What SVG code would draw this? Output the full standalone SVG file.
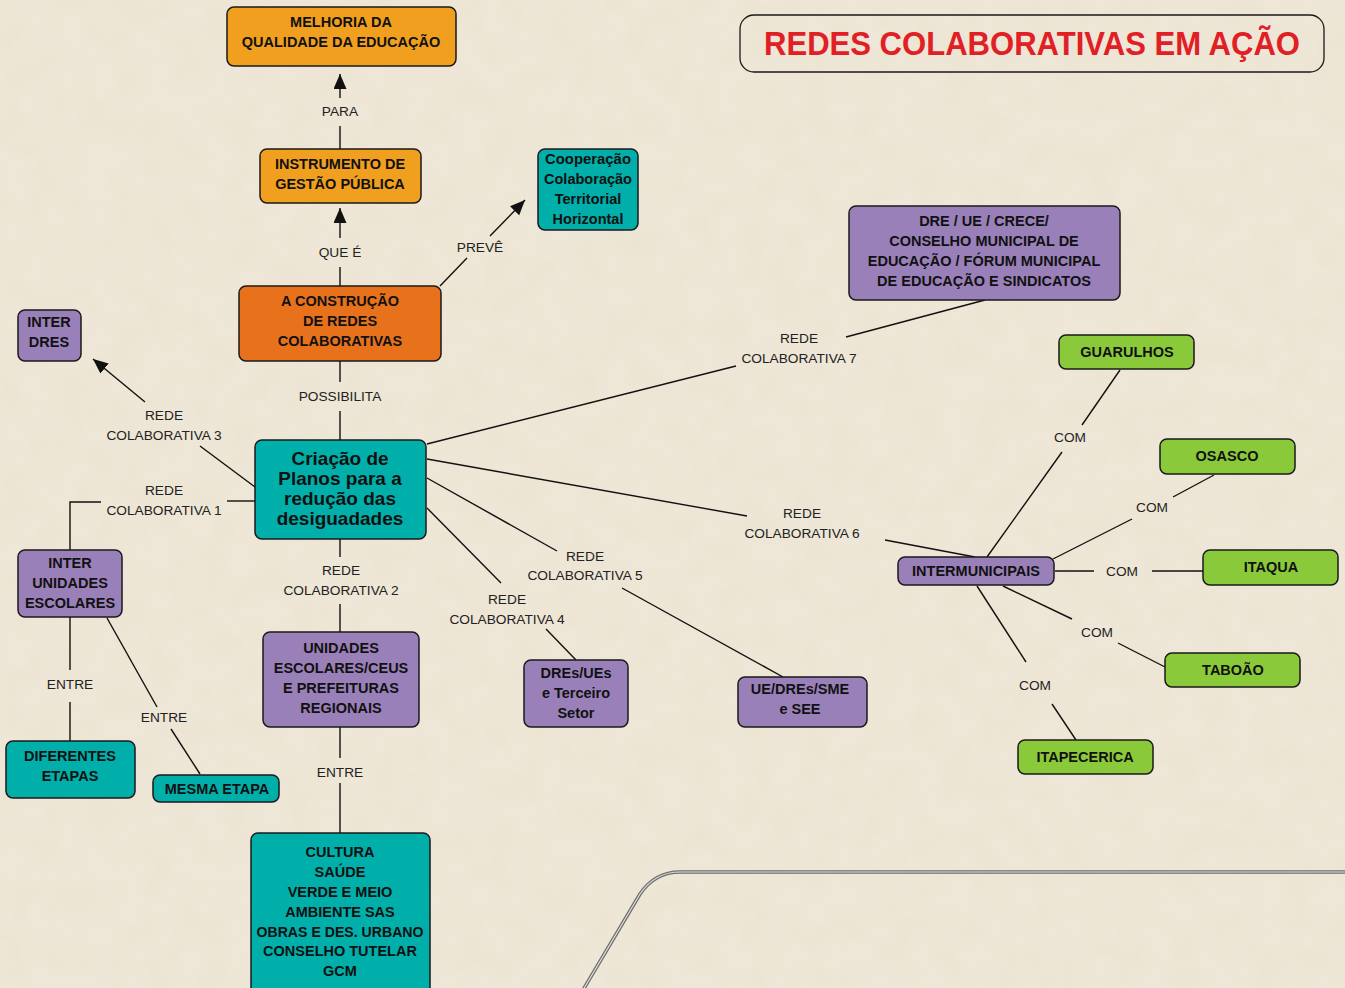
<svg xmlns="http://www.w3.org/2000/svg" width="1345" height="988" viewBox="0 0 1345 988">
<defs>
<style>
.box{stroke:#1a1a1a;stroke-width:1.5}
.ochre{fill:#f0a01e}
.dorange{fill:#e8711c}
.teal{fill:#00afaa}
.purple{fill:#9a80b9}
.green{fill:#8ac93a}
.nt{font-family:"Liberation Sans",Arial,sans-serif;font-weight:bold;font-size:14.5px;fill:#111;text-anchor:middle;dominant-baseline:central}
.big{font-size:19px}
.lbl{font-family:"Liberation Sans",Arial,sans-serif;font-size:13.7px;fill:#222;text-anchor:middle;dominant-baseline:central}
.ln{stroke:#111;stroke-width:1.4;fill:none}
</style>
<marker id="arr" markerUnits="userSpaceOnUse" markerWidth="16" markerHeight="14" refX="15" refY="6.5" orient="auto">
<path d="M0,0 L15,6.5 L0,13 Z" fill="#111"/>
</marker>
<filter id="paper" x="0" y="0" width="100%" height="100%">
<feTurbulence type="fractalNoise" baseFrequency="0.035" numOctaves="4" seed="3" result="n"/>
<feColorMatrix type="matrix" values="0 0 0 0 0.80  0 0 0 0 0.72  0 0 0 0 0.58  0 0 0 1.1 -0.45"/>
</filter>
</defs>
<rect width="1345" height="988" fill="#eee6d6"/>
<rect width="1345" height="988" filter="url(#paper)" opacity="0.35"/>
<g id="decor">
<path d="M583,990 L640,894 Q655,872 680,872 L1345,872" stroke="#6e6e6e" stroke-width="3.6" fill="none"/>
<path d="M583,990 L640,894 Q655,872 680,872 L1345,872" stroke="#e4e4e4" stroke-width="1.1" fill="none"/>
</g>
<g id="title">
<rect x="740" y="15" width="584" height="57" rx="14" fill="none" stroke="#1a1a1a" stroke-width="1.3"/>
<text x="1032" y="43" font-family="'Liberation Sans',Arial,sans-serif" font-weight="bold" font-size="33" fill="#e02025" text-anchor="middle" dominant-baseline="central" textLength="536" lengthAdjust="spacingAndGlyphs">REDES COLABORATIVAS EM AÇÃO</text>
</g>
<g id="connectors">
<line class="ln" x1="340" y1="149" x2="340" y2="126"/>
<line class="ln" x1="340" y1="98" x2="340" y2="74" marker-end="url(#arr)"/>
<text class="lbl" x="340" y="111">PARA</text>
<line class="ln" x1="340" y1="286" x2="340" y2="267"/>
<line class="ln" x1="340" y1="238" x2="340" y2="208" marker-end="url(#arr)"/>
<text class="lbl" x="340" y="252">QUE É</text>
<line class="ln" x1="440" y1="286" x2="467" y2="258"/>
<line class="ln" x1="490" y1="236" x2="525" y2="200" marker-end="url(#arr)"/>
<text class="lbl" x="480" y="247">PREVÊ</text>
<line class="ln" x1="340" y1="361" x2="340" y2="382"/>
<line class="ln" x1="340" y1="411" x2="340" y2="440"/>
<text class="lbl" x="340" y="396">POSSIBILITA</text>
<line class="ln" x1="255" y1="487" x2="200" y2="446"/>
<line class="ln" x1="145" y1="402" x2="93" y2="359" marker-end="url(#arr)"/>
<text class="lbl" x="164" y="415">REDE</text>
<text class="lbl" x="164" y="435">COLABORATIVA 3</text>
<line class="ln" x1="255" y1="501" x2="227" y2="501"/>
<polyline class="ln" points="101,502 70,502 70,550"/>
<text class="lbl" x="164" y="490">REDE</text>
<text class="lbl" x="164" y="510">COLABORATIVA 1</text>
<line class="ln" x1="70" y1="617" x2="70" y2="670"/>
<line class="ln" x1="70" y1="702" x2="70" y2="741"/>
<text class="lbl" x="70" y="684">ENTRE</text>
<line class="ln" x1="107" y1="618" x2="157" y2="707"/>
<line class="ln" x1="171" y1="729" x2="200" y2="774"/>
<text class="lbl" x="164" y="717">ENTRE</text>
<line class="ln" x1="340" y1="539" x2="340" y2="557"/>
<line class="ln" x1="340" y1="604" x2="340" y2="632"/>
<text class="lbl" x="341" y="570">REDE</text>
<text class="lbl" x="341" y="590">COLABORATIVA 2</text>
<line class="ln" x1="340" y1="727" x2="340" y2="758"/>
<line class="ln" x1="340" y1="783" x2="340" y2="833"/>
<text class="lbl" x="340" y="772">ENTRE</text>
<line class="ln" x1="427" y1="508" x2="501" y2="583"/>
<line class="ln" x1="546" y1="629" x2="576" y2="660"/>
<text class="lbl" x="507" y="599">REDE</text>
<text class="lbl" x="507" y="619">COLABORATIVA 4</text>
<line class="ln" x1="427" y1="478" x2="557" y2="551"/>
<line class="ln" x1="622" y1="588" x2="783" y2="677"/>
<text class="lbl" x="585" y="556">REDE</text>
<text class="lbl" x="585" y="575">COLABORATIVA 5</text>
<line class="ln" x1="427" y1="459" x2="747" y2="516"/>
<line class="ln" x1="885" y1="540" x2="975" y2="557"/>
<text class="lbl" x="802" y="513">REDE</text>
<text class="lbl" x="802" y="533">COLABORATIVA 6</text>
<line class="ln" x1="427" y1="444" x2="736" y2="366"/>
<line class="ln" x1="846" y1="337" x2="985" y2="300"/>
<text class="lbl" x="799" y="338">REDE</text>
<text class="lbl" x="799" y="358">COLABORATIVA 7</text>
<line class="ln" x1="987" y1="557" x2="1062" y2="452"/>
<line class="ln" x1="1082" y1="425" x2="1120" y2="370"/>
<text class="lbl" x="1070" y="437">COM</text>
<line class="ln" x1="1053" y1="559" x2="1132" y2="519"/>
<line class="ln" x1="1173" y1="497" x2="1214" y2="475"/>
<text class="lbl" x="1152" y="507">COM</text>
<line class="ln" x1="1055" y1="571" x2="1094" y2="571"/>
<line class="ln" x1="1152" y1="571" x2="1204" y2="571"/>
<text class="lbl" x="1122" y="571">COM</text>
<line class="ln" x1="1003" y1="586" x2="1072" y2="619"/>
<line class="ln" x1="1118" y1="643" x2="1165" y2="667"/>
<text class="lbl" x="1097" y="632">COM</text>
<line class="ln" x1="977" y1="586" x2="1026" y2="662"/>
<line class="ln" x1="1052" y1="704" x2="1076" y2="740"/>
<text class="lbl" x="1035" y="685">COM</text>
</g>
<g id="n-melhoria">
<rect class="box ochre" x="227" y="7" width="229" height="59" rx="7"/>
<text class="nt" x="341" y="22">MELHORIA DA</text>
<text class="nt" x="341" y="42">QUALIDADE DA EDUCAÇÃO</text>
</g>
<g id="n-instrumento">
<rect class="box ochre" x="260" y="149" width="161" height="54" rx="7"/>
<text class="nt" x="340" y="164">INSTRUMENTO DE</text>
<text class="nt" x="340" y="184">GESTÃO PÚBLICA</text>
</g>
<g id="n-construcao">
<rect class="box dorange" x="239" y="286" width="202" height="75" rx="7"/>
<text class="nt" x="340" y="301">A CONSTRUÇÃO</text>
<text class="nt" x="340" y="321">DE REDES</text>
<text class="nt" x="340" y="341">COLABORATIVAS</text>
</g>
<g id="n-cooperacao">
<rect class="box teal" x="538" y="149" width="100" height="81" rx="7"/>
<text class="nt" x="588" y="159" textLength="86" lengthAdjust="spacingAndGlyphs">Cooperação</text>
<text class="nt" x="588" y="179" textLength="88" lengthAdjust="spacingAndGlyphs">Colaboração</text>
<text class="nt" x="588" y="199">Territorial</text>
<text class="nt" x="588" y="219">Horizontal</text>
</g>
<g id="n-interdres">
<rect class="box purple" x="18" y="310" width="63" height="51" rx="7"/>
<text class="nt" x="49" y="322">INTER</text>
<text class="nt" x="49" y="342">DRES</text>
</g>
<g id="n-criacao">
<rect class="box teal" x="255" y="440" width="171" height="99" rx="7"/>
<text class="nt big" x="340" y="458">Criação de</text>
<text class="nt big" x="340" y="478">Planos para a</text>
<text class="nt big" x="340" y="498">redução das</text>
<text class="nt big" x="340" y="518">desiguadades</text>
</g>
<g id="n-interunidades">
<rect class="box purple" x="18" y="550" width="104" height="67" rx="7"/>
<text class="nt" x="70" y="563">INTER</text>
<text class="nt" x="70" y="583">UNIDADES</text>
<text class="nt" x="70" y="603">ESCOLARES</text>
</g>
<g id="n-diferentes">
<rect class="box teal" x="6" y="741" width="129" height="57" rx="7"/>
<text class="nt" x="70" y="756">DIFERENTES</text>
<text class="nt" x="70" y="776">ETAPAS</text>
</g>
<g id="n-mesma">
<rect class="box teal" x="153" y="775" width="126" height="27" rx="7"/>
<text class="nt" x="217" y="789">MESMA ETAPA</text>
</g>
<g id="n-unidades">
<rect class="box purple" x="263" y="632" width="156" height="95" rx="7"/>
<text class="nt" x="341" y="648">UNIDADES</text>
<text class="nt" x="341" y="668">ESCOLARES/CEUS</text>
<text class="nt" x="341" y="688">E PREFEITURAS</text>
<text class="nt" x="341" y="708">REGIONAIS</text>
</g>
<g id="n-cultura">
<rect class="box teal" x="251" y="833" width="179" height="170" rx="7"/>
<text class="nt" x="340" y="852">CULTURA</text>
<text class="nt" x="340" y="872">SAÚDE</text>
<text class="nt" x="340" y="892">VERDE E MEIO</text>
<text class="nt" x="340" y="912">AMBIENTE SAS</text>
<text class="nt" x="340" y="932" textLength="167" lengthAdjust="spacingAndGlyphs">OBRAS E DES. URBANO</text>
<text class="nt" x="340" y="951">CONSELHO TUTELAR</text>
<text class="nt" x="340" y="971">GCM</text>
</g>
<g id="n-dres-terceiro">
<rect class="box purple" x="524" y="660" width="104" height="67" rx="7"/>
<text class="nt" x="576" y="673">DREs/UEs</text>
<text class="nt" x="576" y="693">e Terceiro</text>
<text class="nt" x="576" y="713">Setor</text>
</g>
<g id="n-ue-sme">
<rect class="box purple" x="738" y="677" width="129" height="50" rx="7"/>
<text class="nt" x="800" y="689">UE/DREs/SME</text>
<text class="nt" x="800" y="709">e SEE</text>
</g>
<g id="n-dre-conselho">
<rect class="box purple" x="849" y="206" width="271" height="94" rx="7"/>
<text class="nt" x="984" y="221">DRE / UE / CRECE/</text>
<text class="nt" x="984" y="241">CONSELHO MUNICIPAL DE</text>
<text class="nt" x="984" y="261">EDUCAÇÃO / FÓRUM MUNICIPAL</text>
<text class="nt" x="984" y="281">DE EDUCAÇÃO E SINDICATOS</text>
</g>
<g id="n-intermunicipais">
<rect class="box purple" x="898" y="557" width="156" height="28" rx="7"/>
<text class="nt" x="976" y="571">INTERMUNICIPAIS</text>
</g>
<g id="n-guarulhos">
<rect class="box green" x="1059" y="335" width="135" height="34" rx="7"/>
<text class="nt" x="1127" y="352">GUARULHOS</text>
</g>
<g id="n-osasco">
<rect class="box green" x="1160" y="439" width="135" height="35" rx="7"/>
<text class="nt" x="1227" y="456">OSASCO</text>
</g>
<g id="n-itaqua">
<rect class="box green" x="1203" y="550" width="135" height="35" rx="7"/>
<text class="nt" x="1271" y="567">ITAQUA</text>
</g>
<g id="n-taboao">
<rect class="box green" x="1165" y="653" width="135" height="34" rx="7"/>
<text class="nt" x="1233" y="670">TABOÃO</text>
</g>
<g id="n-itapecerica">
<rect class="box green" x="1018" y="740" width="135" height="34" rx="7"/>
<text class="nt" x="1085" y="757">ITAPECERICA</text>
</g>
</svg>
